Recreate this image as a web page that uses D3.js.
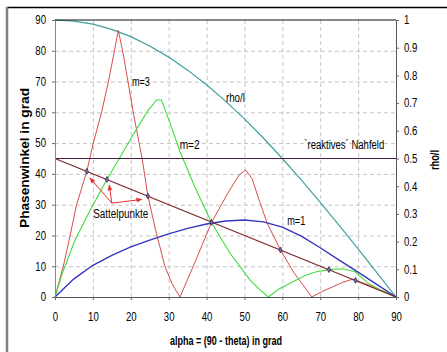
<!DOCTYPE html>
<html>
<head>
<meta charset="utf-8">
<script src="https://cdn.jsdelivr.net/npm/d3@7"></script>
<style>
  body { margin: 0; background: #fff; }
  svg { display: block; font-family: "Liberation Sans", Arial, sans-serif; }
</style>
</head>
<body>
<svg id="chart" width="447" height="352"></svg>
<script>
// values (alpha in degrees, phase in degrees, rho/l 0..1)
const alphaRho = [0, 5, 10, 15, 20, 25, 30, 35, 40, 45, 50, 55, 60, 65, 70, 75, 80, 85, 90]
const rhoL = [1, 0.996, 0.985, 0.966, 0.94, 0.906, 0.866, 0.819, 0.766, 0.707, 0.643, 0.574, 0.5, 0.423, 0.342, 0.259, 0.174, 0.087, 0]

const alphaM1 = [0, 5, 10, 15, 20, 25, 30, 35, 40, 45, 50, 55, 60, 65, 70, 75, 80, 85, 90]
const phaseM1 = [0, 5.9, 10.3, 13.5, 16.3, 18.5, 20.5, 22.3, 23.7, 24.7, 25, 24.4, 22.7, 19.8, 16, 12, 8.1, 4, 0]

const alphaM2 = [0, 2, 5.3, 9, 13.7, 17.2, 21, 24.5, 26.8, 28.1, 30.5, 33, 37, 41.3, 46.2, 51.5, 54, 56.3, 59, 62, 66, 69, 72.3, 76, 79.2, 82.6, 86, 90]
const phaseM2 = [0, 8, 18.5, 27.5, 38.2, 45.5, 53.5, 60.5, 64, 64, 56, 47.2, 35.5, 24.2, 14.2, 5.5, 2.5, 0, 2.5, 4.5, 7, 8.2, 8.9, 9.2, 8.2, 4.5, 2.2, 0]

const alphaM3 = [0, 2.2, 4, 5.7, 8.4, 10.1, 12.3, 14.1, 15.7, 16.7, 18, 19.4, 20.8, 23, 24.5, 26.5, 29, 31, 33,
  37, 41.3, 45.5, 48.5, 50.3, 52, 54, 56, 59.5, 63, 67.8, 70.5, 73.3, 76, 78.6, 80, 83, 86.5, 90]
const phaseM3 = [0, 10, 20, 30, 40.8, 50, 60, 70, 80, 86.7, 79, 69, 59, 45, 33, 22, 10, 4, 0,
  11.5, 24.2, 33.5, 39.5, 41.3, 38.5, 31, 24, 15.3, 8, 0, 1.8, 3.3, 4.8, 5.8, 5.1, 3.8, 2, 0]

// straight line 45 -> 0 and the near field limit
const alphaDiag = [0, 90]
const phaseDiag = [45, 0]
const nahfeldRho = 0.5

// saddle points on the diagonal
const satAlpha = [8.4, 13.7, 24.5, 41.3, 59.5, 72.3, 79.3]
const satPhase = [40.8, 38.2, 32.8, 24.3, 15.3, 8.9, 5.4]

// arrows from the label to the first three saddle points
const arrowFrom = [15, 30.5]
const arrowToAlpha = [9.2, 14.3, 22.9]
const arrowToPhase = [38.7, 36.4, 31.7]

const xTicks = [0, 10, 20, 30, 40, 50, 60, 70, 80, 90]
const yTicks = [0, 10, 20, 30, 40, 50, 60, 70, 80, 90]
const rTicks = [0, 0.1, 0.2, 0.3, 0.4, 0.5, 0.6, 0.7, 0.8, 0.9, 1]

const svg = d3.select('#chart')

const x = d3.scaleLinear().domain([0, 90]).range([55, 396])
const y = d3.scaleLinear().domain([0, 90]).range([297, 20])
const yR = d3.scaleLinear().domain([0, 1]).range([297, 20])

// outer frame (only top and left visible)
svg.append('line').attr('x1', 7).attr('x2', 447).attr('y1', 7.5).attr('y2', 7.5)
  .attr('stroke', '#000').attr('stroke-width', 1.5)
svg.append('line').attr('x1', 7).attr('x2', 7).attr('y1', 7).attr('y2', 352)
  .attr('stroke', '#808080').attr('stroke-width', 2.5)

// grid
const grid = svg.append('g').attr('stroke', '#c4c4c4').attr('stroke-dasharray', '4,3').attr('stroke-width', 1)
grid.selectAll('.gx').data(xTicks.slice(1, -1)).enter().append('line')
  .attr('x1', d => x(d) + 0.5).attr('x2', d => x(d) + 0.5).attr('y1', y(90)).attr('y2', y(0))
grid.selectAll('.gy').data(yTicks.slice(1, -1)).enter().append('line')
  .attr('x1', x(0)).attr('x2', x(90)).attr('y1', d => y(d) + 0.5).attr('y2', d => y(d) + 0.5)

const line = (xs, ys, sy) => d3.line().x((d, i) => x(xs[i])).y((d, i) => sy(ys[i]))(xs)

svg.append('path').attr('d', line(alphaRho, rhoL, yR))
  .attr('fill', 'none').attr('stroke', '#3f9f9f').attr('stroke-width', 1.2)
svg.append('path').attr('d', line(alphaM3, phaseM3, y))
  .attr('fill', 'none').attr('stroke', '#d84c4c').attr('stroke-width', 1)
svg.append('path').attr('d', line(alphaM2, phaseM2, y))
  .attr('fill', 'none').attr('stroke', '#3fdc3f').attr('stroke-width', 1.1)
svg.append('path').attr('d', line(alphaM1, phaseM1, y))
  .attr('fill', 'none').attr('stroke', '#3535c0').attr('stroke-width', 1.4)
svg.append('path').attr('d', line(alphaDiag, phaseDiag, y))
  .attr('fill', 'none').attr('stroke', '#7a2424').attr('stroke-width', 1.2)
svg.append('line')
  .attr('x1', x(0)).attr('x2', x(90)).attr('y1', yR(nahfeldRho)).attr('y2', yR(nahfeldRho))
  .attr('stroke', '#4a1a48').attr('stroke-width', 1.2)

// saddle point markers
svg.selectAll('.sat').data(satAlpha).enter().append('path')
  .attr('d', d3.symbol(d3.symbolDiamond, 10))
  .attr('transform', (d, i) => `translate(${x(d)},${y(satPhase[i])})`)
  .attr('fill', '#7a6aa8').attr('stroke', '#2a1a4a').attr('stroke-width', 0.7)

// arrows
svg.append('defs').append('marker')
  .attr('id', 'head').attr('viewBox', '0 0 10 10').attr('refX', 9).attr('refY', 5)
  .attr('markerWidth', 6).attr('markerHeight', 6).attr('orient', 'auto')
  .append('path').attr('d', 'M0,1 L10,5 L0,9 Z').attr('fill', '#e03030')
svg.selectAll('.arrow').data(arrowToAlpha).enter().append('line')
  .attr('x1', x(arrowFrom[0])).attr('y1', y(arrowFrom[1]))
  .attr('x2', d => x(d)).attr('y2', (d, i) => y(arrowToPhase[i]))
  .attr('stroke', '#e03030').attr('stroke-width', 1).attr('marker-end', 'url(#head)')

// axes
const axL = svg.append('g').attr('transform', `translate(${x(0)},0)`)
  .call(d3.axisLeft(y).tickValues(yTicks).tickSize(3).tickPadding(6))
const axB = svg.append('g').attr('transform', `translate(0,${y(0)})`)
  .call(d3.axisBottom(x).tickValues(xTicks).tickSize(3).tickPadding(12))
const axR = svg.append('g').attr('transform', `translate(${x(90)},0)`)
  .call(d3.axisRight(yR).tickValues(rTicks).tickSize(3).tickPadding(5).tickFormat(d3.format('')))
axL.select('.domain').attr('stroke', '#8a8a8a')
axB.select('.domain').attr('stroke', '#555')
axR.select('.domain').attr('stroke', '#555')
svg.selectAll('.tick line').attr('stroke', '#666')
svg.selectAll('.tick text').attr('font-size', 12).attr('fill', '#000')
  .attr('font-family', '"Liberation Sans", Arial, sans-serif')
  .each(function() {
    const w = this.getComputedTextLength()
    d3.select(this).attr('textLength', w * 0.8).attr('lengthAdjust', 'spacingAndGlyphs')
  })

// top border of the plot
svg.append('line').attr('x1', x(0)).attr('x2', x(90)).attr('y1', y(90)).attr('y2', y(90))
  .attr('stroke', '#111').attr('stroke-width', 1.2)

// texts
const label = (txt, px, py, len, opts = {}) => {
  const t = svg.append('text').attr('x', px).attr('y', py).text(txt)
    .attr('font-size', opts.size || 12).attr('fill', '#000')
    .attr('font-weight', opts.bold ? 'bold' : 'normal')
    .attr('text-anchor', opts.anchor || 'start')
    .attr('textLength', len).attr('lengthAdjust', 'spacingAndGlyphs')
  if (opts.rotate) t.attr('transform', `rotate(-90,${px},${py})`)
  return t
}
label('m=3', x(20.3), y(68.5), 18)
label('m=2', x(32.9), y(48.2), 20)
label('rho/l', x(45.1), y(63.3), 19)
label('`reaktives´ Nahfeld', x(65.8), y(48.2), 80)
label('m=1', x(61.3), y(23.4), 18)
label('Sattelpunkte', x(10.1), y(25.8), 55)
label('alpha = (90 - theta) in grad', 226, 345, 112, { anchor: 'middle', bold: true })
label('Phasenwinkel in grad', 29, 158, 140, { anchor: 'middle', bold: true, rotate: true })
label('rho/l', 439, 160, 20, { anchor: 'middle', bold: true, rotate: true })
</script>
</body>
</html>
